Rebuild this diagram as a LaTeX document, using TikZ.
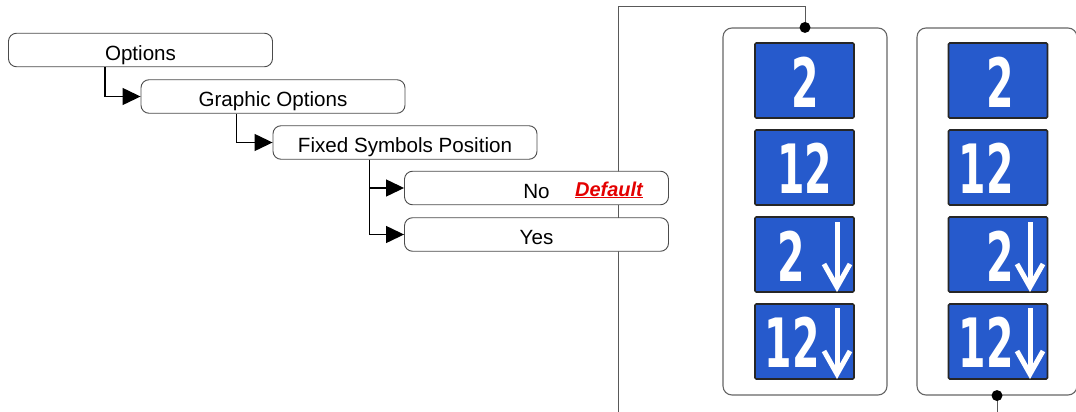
\documentclass[tikz,border=0pt]{standalone}
\usepackage{fontspec}
\usepackage{graphicx}
\setmainfont{Liberation Sans}
\newfontfamily\digitfont{DejaVu Sans}
\usetikzlibrary{arrows.meta,calc}
\definecolor{tileblue}{RGB}{38,90,204}
\definecolor{defred}{RGB}{228,0,0}
\begin{document}
\begin{tikzpicture}[x=1pt,y=-1pt,
  optbox/.style={draw=black!70, line width=0.9pt, rounded corners=8pt, fill=white,
    minimum width=264pt, minimum height=33.5pt, inner sep=0pt, text height=22pt, text depth=2pt,
    font=\fontsize{20.6}{23}\selectfont},
  conn/.style={draw=black, line width=1.3pt, -{Triangle[length=18pt,width=17pt]}},
  wire/.style={draw=black!65, line width=1pt},
  panel/.style={draw=black!60, line width=1.1pt, rounded corners=9pt, fill=white, inner sep=0pt},
  tile/.style={draw=black!85, line width=1.6pt, fill=tileblue, rounded corners=1.2pt,
    minimum width=99pt, minimum height=75pt, inner sep=0pt},
  digit/.style={text=white, inner sep=0pt, font=\digitfont\bfseries\fontsize{68}{68}\selectfont},
  arr/.style={draw=white, line width=5pt, miter limit=10},
  dot/.style={circle, fill=black, inner sep=0pt, minimum size=11pt}
]
\useasboundingbox[fill=white] (0,0) rectangle (1076,412);

% option tree
\node[optbox] (o) at (140.5,50) {Options};
\node[optbox] (g) at (273,96.5) {Graphic Options};
\node[optbox] (f) at (405,142.5) {Fixed Symbols Position};

\coordinate (bot1) at (618,412);
\node[panel, minimum width=164pt, minimum height=367pt] (p1) at (805,211.5) {};
\node[panel, minimum width=160pt, minimum height=367pt] (p2) at (997,211.5) {};
\draw[wire] (bot1) |- ([yshift=21pt]p1.north) -- (p1.north);
\coordinate (bot2) at (997,412);
\draw[wire] (p2.south) -- (bot2);
\node[dot] at (p1.north) {};
\node[dot] at (p2.south) {};

\node[optbox] (no) at (536.5,188) {No};
\node[optbox] (yes) at (536.5,234.5) {Yes};
\node[text=defred, font=\fontsize{20}{22}\selectfont\bfseries\itshape, inner sep=0pt, anchor=base] (def) at (609,196)
  {\underline{Default}};

\draw[conn] ($(o.south west)+(97,0)$) |- (g.west);
\draw[conn] ($(g.south west)+(96,0)$) |- (f.west);
\draw[conn] ($(f.south west)+(97,0)$) |- (no.west);
\draw[conn] ($(f.south west)+(97,0)$) |- (yes.west);

% panel 1 tiles
\node[tile] (a1) at (804.5,80.5) {};
\node[tile] (a2) at (804.5,167.5) {};
\node[tile] (a3) at (804.5,254.5) {};
\node[tile] (a4) at (804.5,341.5) {};
\node[digit, anchor=base] (a1t) at (805,107) {\scalebox{0.58}[1]{2}};
\node[digit, anchor=base] (a2t) at (804.5,193) {\scalebox{0.58}[1]{12}};
\node[digit, anchor=base east] (a3t) at (805,281) {\scalebox{0.58}[1]{2}};
\node[digit, anchor=base east] (a4t) at (820,367) {\scalebox{0.58}[1]{12}};
\draw[arr] (837,222) -- (837,284);
\draw[arr] (824,264) -- (837,287) -- (850,264);
\draw[arr] (837,308) -- (837,371);
\draw[arr] (824,351) -- (837,374) -- (850,351);

% panel 2 tiles
\node[tile] (b1) at (998,80.5) {};
\node[tile] (b2) at (998,167.5) {};
\node[tile] (b3) at (998,254.5) {};
\node[tile] (b4) at (998,341.5) {};
\node[digit, anchor=base east] (b1t) at (1014,107) {\scalebox{0.58}[1]{2}};
\node[digit, anchor=base east] (b2t) at (1014,193) {\scalebox{0.58}[1]{12}};
\node[digit, anchor=base east] (b3t) at (1014,281) {\scalebox{0.58}[1]{2}};
\node[digit, anchor=base east] (b4t) at (1014,367) {\scalebox{0.58}[1]{12}};
\draw[arr] (1030,222) -- (1030,284);
\draw[arr] (1017,264) -- (1030,287) -- (1043,264);
\draw[arr] (1030,308) -- (1030,371);
\draw[arr] (1017,351) -- (1030,374) -- (1043,351);
\end{tikzpicture}
\end{document}
